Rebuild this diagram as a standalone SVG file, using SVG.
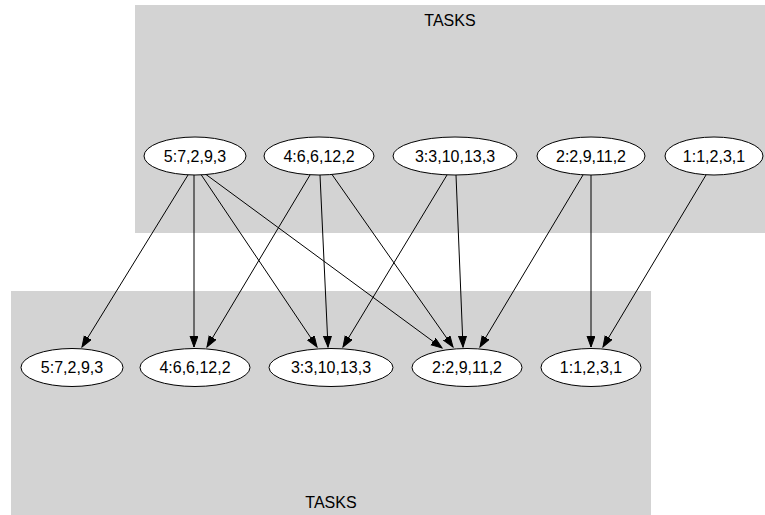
<svg xmlns="http://www.w3.org/2000/svg" width="765" height="515" viewBox="0 0 765 515">
<defs>
<style>
.cl{fill:#d3d3d3;stroke:none}
.nd ellipse{fill:#ffffff;stroke:#000000;stroke-width:1}
text{font-family:"Liberation Sans",Arial,sans-serif;font-size:16px;text-anchor:middle;fill:#000000}
.ed line{stroke:#000000;stroke-width:1;marker-end:url(#ah)}
</style>
<marker id="ah" markerUnits="userSpaceOnUse" markerWidth="12" markerHeight="9" refX="11" refY="4" orient="auto">
<path d="M0,0 L11,4 L0,8 z" fill="#000000" stroke="#000000" stroke-width="1"/>
</marker>
</defs>
<g id="cluster_top">
<rect class="cl" x="135" y="5" width="630" height="228"/>
<text x="450" y="26">TASKS</text>
</g>
<g id="cluster_bottom">
<rect class="cl" x="11" y="291" width="640" height="224"/>
<text x="331" y="508">TASKS</text>
</g>
<g id="edges" class="ed">
<line x1="188" y1="175" x2="82" y2="347"/>
<line x1="194" y1="175" x2="194" y2="347"/>
<line x1="201" y1="174.5" x2="317" y2="347"/>
<line x1="206" y1="174.5" x2="442" y2="348"/>
<line x1="310" y1="175" x2="207" y2="347"/>
<line x1="320" y1="175" x2="328" y2="347"/>
<line x1="332" y1="174.5" x2="453" y2="347"/>
<line x1="447" y1="175" x2="343" y2="347"/>
<line x1="456" y1="175" x2="463" y2="347"/>
<line x1="583" y1="175" x2="480" y2="347"/>
<line x1="591" y1="175" x2="591" y2="347"/>
<line x1="706" y1="175" x2="603" y2="347"/>
</g>
<g id="t5" class="nd"><ellipse cx="195" cy="156" rx="51" ry="19"/><text x="195" y="161.5">5:7,2,9,3</text></g>
<g id="t4" class="nd"><ellipse cx="319" cy="156" rx="55" ry="19"/><text x="319" y="161.5">4:6,6,12,2</text></g>
<g id="t3" class="nd"><ellipse cx="455" cy="156" rx="62" ry="19"/><text x="455" y="161.5">3:3,10,13,3</text></g>
<g id="t2" class="nd"><ellipse cx="591" cy="156" rx="54" ry="19"/><text x="591" y="161.5">2:2,9,11,2</text></g>
<g id="t1" class="nd"><ellipse cx="714" cy="156" rx="49" ry="19"/><text x="714" y="161.5">1:1,2,3,1</text></g>
<g id="b5" class="nd"><ellipse cx="72" cy="367.5" rx="51" ry="19"/><text x="72" y="373">5:7,2,9,3</text></g>
<g id="b4" class="nd"><ellipse cx="195" cy="367.5" rx="55" ry="19"/><text x="195" y="373">4:6,6,12,2</text></g>
<g id="b3" class="nd"><ellipse cx="331" cy="367.5" rx="62" ry="19"/><text x="331" y="373">3:3,10,13,3</text></g>
<g id="b2" class="nd"><ellipse cx="467" cy="367.5" rx="55" ry="19"/><text x="467" y="373">2:2,9,11,2</text></g>
<g id="b1" class="nd"><ellipse cx="591" cy="367.5" rx="50" ry="19"/><text x="591" y="373">1:1,2,3,1</text></g>
</svg>
